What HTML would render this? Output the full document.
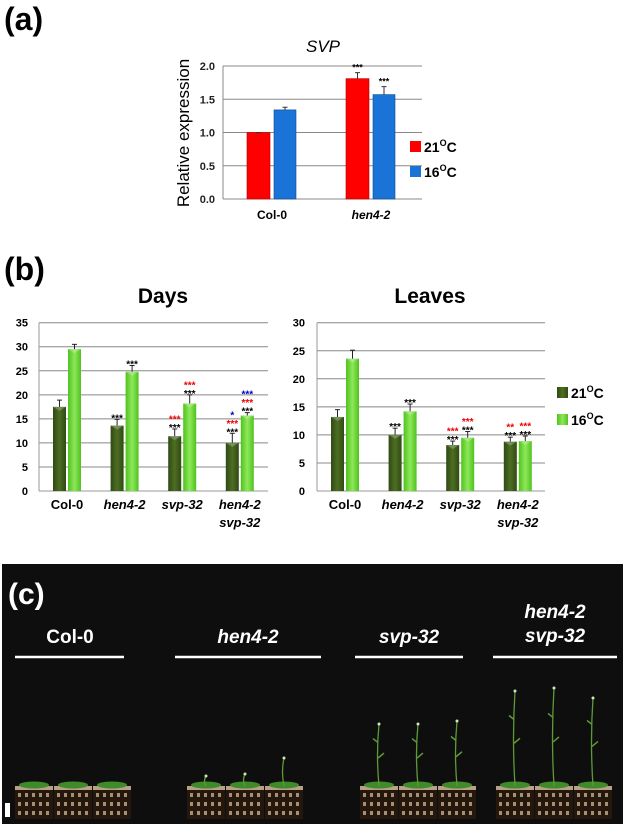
<!DOCTYPE html>
<html><head><meta charset="utf-8"><style>
html,body{margin:0;padding:0;background:#fff;}
svg{display:block;font-family:"Liberation Sans",Arial,sans-serif;}
</style></head><body>
<svg id="fig" width="624" height="824" viewBox="0 0 624 824" xmlns="http://www.w3.org/2000/svg">
<defs>
<linearGradient id="gDark" x1="0" x2="1"><stop offset="0" stop-color="#2f4a14"/><stop offset="0.5" stop-color="#4d6e22"/><stop offset="1" stop-color="#2f4a14"/></linearGradient>
<linearGradient id="gLight" x1="0" x2="1"><stop offset="0" stop-color="#4fc21e"/><stop offset="0.5" stop-color="#8ee85a"/><stop offset="1" stop-color="#4fc21e"/></linearGradient>
</defs>
<text x="4" y="30" font-size="32" font-weight="bold">(a)</text>
<text x="4" y="280" font-size="32" font-weight="bold">(b)</text>
<g id="a"></g>
<g id="bl"></g>
<g id="br"></g>
<g id="c"></g>
</svg>
<script>
// Panel (a) data
const svpCats = ["Col-0", "hen4-2"];
const svp21 = [1.0, 1.81];
const svp21Err = [0.0, 0.09];
const svp16 = [1.34, 1.57];
const svp16Err = [0.04, 0.12];
const svpTicks = [0, 0.5, 1.0, 1.5, 2.0];
const svp21Stars = ["", "***"];
const svp16Stars = ["", "***"];
// Panel (b) data
const genoCats = ["Col-0", "hen4-2", "svp-32", "hen4-2|svp-32"];
const days21 = [17.5, 13.6, 11.4, 10.0];
const days21Err = [1.4, 1.3, 1.5, 2.0];
const days16 = [29.5, 24.8, 18.2, 15.7];
const days16Err = [1.0, 1.3, 1.8, 0.6];
const daysTicks = [0, 5, 10, 15, 20, 25, 30, 35];
const leaves21 = [13.2, 10.0, 8.2, 8.8];
const leaves21Err = [1.3, 1.2, 0.7, 0.8];
const leaves16 = [23.6, 14.2, 9.5, 8.9];
const leaves16Err = [1.5, 1.3, 1.1, 0.9];
const leavesTicks = [0, 5, 10, 15, 20, 25, 30];
const days21Stars = [[], [["***","#000"]], [["***","#000"],["***","#e00"]], [["***","#000"],["***","#e00"],["*","#00c"]]];
const days16Stars = [[], [["***","#000"]], [["***","#000"],["***","#e00"]], [["***","#000"],["***","#e00"],["***","#00c"]]];
const leaves21Stars = [[], [["***","#000"]], [["***","#000"],["***","#e00"]], [["***","#000"],["**","#e00"]]];
const leaves16Stars = [[], [["***","#000"]], [["***","#000"],["***","#e00"]], [["***","#000"],["***","#e00"]]];

const NS="http://www.w3.org/2000/svg";
function mk(parent,tag,attrs,text){const e=document.createElementNS(NS,tag);for(const k in attrs)e.setAttribute(k,attrs[k]);if(text!==undefined)e.textContent=text;parent.appendChild(e);return e;}

// ---- Panel a ----
(function(){
const g=document.getElementById('a');
const x0=223,x1=422,yB=199,yT=66,vmax=2.0;
const y=v=>yB-(v/vmax)*(yB-yT);
svpTicks.forEach(t=>{
  const l=mk(g,'line',{x1:x0,x2:x1,y1:y(t),y2:y(t),stroke:'#888','stroke-width':1});
  
  
  const tx=mk(g,'text',{x:x0-8,y:y(t)+4,'font-size':11,'font-weight':'bold','text-anchor':'end',fill:'#222'},t.toFixed(1));
  
  
});
mk(g,'line',{x1:x0,x2:x0,y1:yT,y2:yB,stroke:'#888'});
const gx=i=>247+i*99;
svpCats.forEach((c,i)=>{
  const bx=gx(i);
  const r=mk(g,'rect',{x:bx,y:y(svp21[i]),width:23,height:yB-y(svp21[i]),fill:'#f00',stroke:'#a00','stroke-width':0.6});
  
  
  const b=mk(g,'rect',{x:bx+27,y:y(svp16[i]),width:22,height:yB-y(svp16[i]),fill:'#1a73d6',stroke:'#0b4a90','stroke-width':0.6});
  
  
  [[bx+11.5,svp21[i],svp21Err[i],svp21Stars[i]],[bx+38,svp16[i],svp16Err[i],svp16Stars[i]]].forEach(([cx,v,e,s])=>{
    if(e>0){mk(g,'line',{x1:cx,x2:cx,y1:y(v),y2:y(v+e),stroke:'#333'});mk(g,'line',{x1:cx-2.5,x2:cx+2.5,y1:y(v+e),y2:y(v+e),stroke:'#333'});}
    else mk(g,'line',{x1:cx-2.5,x2:cx+2.5,y1:y(v),y2:y(v),stroke:'#333'});
    if(s){const st=mk(g,'text',{x:cx,y:y(v+e)-2,'font-size':9,'font-weight':'bold','text-anchor':'middle'},s);
      
      }
  });
  const lb=mk(g,'text',{x:bx+25,y:219,'font-size':12,'font-weight':'bold','text-anchor':'middle','font-style':i?'italic':'normal'},c);
  
  
});
const t=mk(g,'text',{x:323,y:52,'font-size':17,'font-style':'italic','text-anchor':'middle'},'SVP');

const yl=mk(g,'text',{x:0,y:0,'font-size':17,'text-anchor':'middle',transform:'translate(189,133) rotate(-90)'},'Relative expression');

[['#f00','21',147],['#1a73d6','16',172]].forEach(([col,tmp,yy])=>{
  const lg=mk(g,'g',{});
  
  
  mk(lg,'rect',{x:410,y:yy-6,width:11,height:11,fill:col});
  const tx=mk(lg,'text',{x:424,y:yy+5,'font-size':14,'font-weight':'bold'},tmp);
  mk(tx,'tspan',{dy:-6,'font-size':9},'O');
  mk(tx,'tspan',{dy:6},'C');
});
})();

// ---- Panel b ----
function drawB(id,title,vals21,err21,vals16,err16,ticks,vmax,st21,st16,x0,x1,tickX,firstBar,titleX){
const g=document.getElementById(id);
const yB=491,yT=322.7;
const y=v=>yB-(v/vmax)*(yB-yT);
ticks.forEach(t=>{
  if(t>0){const l=mk(g,'line',{x1:x0,x2:x1,y1:y(t),y2:y(t),stroke:'#888','stroke-width':1});
  }
  const tx=mk(g,'text',{x:tickX,y:y(t)+4,'font-size':11,'font-weight':'bold','text-anchor':'end'},String(t));
  
});
mk(g,'line',{x1:x0,x2:x0,y1:yT,y2:yB,stroke:'#999'});
mk(g,'line',{x1:x0,x2:x1,y1:yB,y2:yB,stroke:'#999'});
const tt=mk(g,'text',{x:titleX,y:303,'font-size':21,'font-weight':'bold','text-anchor':'middle'},title);

genoCats.forEach((c,i)=>{
  const bx=firstBar+i*57.6;
  [[bx,vals21[i],err21[i],'url(#gDark)',st21[i],'21c'],[bx+15,vals16[i],err16[i],'url(#gLight)',st16[i],'16c']].forEach(([x,v,e,f,stars,nm])=>{
    const r=mk(g,'rect',{x:x,y:y(v),width:13,height:yB-y(v),fill:f});
    
    
    mk(g,'polygon',{points:`${x},${y(v)} ${x+13},${y(v)} ${x+6.5},${y(v)+4}`,fill:'rgba(255,255,255,0.25)'});
    const cx=x+6.5;
    mk(g,'line',{x1:cx,x2:cx,y1:y(v),y2:y(v+e),stroke:'#222'});
    mk(g,'line',{x1:cx-2.5,x2:cx+2.5,y1:y(v+e),y2:y(v+e),stroke:'#222'});
    stars.forEach((s,k)=>{
      const st=mk(g,'text',{x:cx,y:y(v+e)-3-k*8.5+5,'font-size':10,'font-weight':'bold','text-anchor':'middle',fill:s[1]},s[0]);
      
    });
  });
  const parts=c.split('|');
  parts.forEach((p,k)=>{
    const lb=mk(g,'text',{x:bx+14,y:509+k*18,'font-size':13,'font-weight':'bold','text-anchor':'middle','font-style':i?'italic':'normal'},p);
    
  });
});
}
drawB('bl','Days',days21,days21Err,days16,days16Err,daysTicks,35,days21Stars,days16Stars,39,268,28,53,163);
drawB('br','Leaves',leaves21,leaves21Err,leaves16,leaves16Err,leavesTicks,30,leaves21Stars,leaves16Stars,317,545,305,331,430);
(function(){
const g=document.getElementById('br');
[['url(#gDark)','21',393],['url(#gLight)','16',420]].forEach(([col,tmp,yy])=>{
  const lg=mk(g,'g',{});
  
  
  mk(lg,'rect',{x:557,y:yy-6,width:11,height:11,fill:col});
  const tx=mk(lg,'text',{x:571,y:yy+5,'font-size':14,'font-weight':'bold'},tmp);
  mk(tx,'tspan',{dy:-6,'font-size':9},'O');
  mk(tx,'tspan',{dy:6},'C');
});
})();

// ---- Panel c ----
(function(){
const g=document.getElementById('c');
mk(g,'rect',{x:2,y:564,width:621,height:260,fill:'#0e0e0e'});
const lc=mk(g,'text',{x:8,y:604,'font-size':30,'font-weight':'bold',fill:'#fff'},'(c)');

const labels=[['Col-0',70,15,124,false],['hen4-2',248,175,321,true],['svp-32',409,355,463,true],['hen4-2|svp-32',555,493,617,true]];
labels.forEach(([t,cx,a,b,it])=>{
  const ps=t.split('|');
  ps.forEach((p,k)=>{
    const tx=mk(g,'text',{x:cx,y:ps.length>1?618+k*24:643,'font-size':19,'font-weight':'bold',fill:'#fff','text-anchor':'middle','font-style':it?'italic':'normal'},p);
    
  });
  mk(g,'line',{x1:a,x2:b,y1:657,y2:657,stroke:'#fff','stroke-width':2.5});
});
mk(g,'rect',{x:5,y:803,width:5,height:14,fill:'#fff'});
const pots=[[15,[0,0,0]],[187,[10,12,28]],[360,[62,62,65]],[496,[95,98,88]]];
pots.forEach(([px,hs])=>{
  for(let k=0;k<3;k++){
    const x=px+k*39;
    mk(g,'rect',{x:x,y:788,width:38,height:31,fill:'#24170e'});
    mk(g,'rect',{x:x,y:786,width:38,height:4,fill:'#b8a184'});
    for(let r=0;r<3;r++)for(let c=0;c<5;c++)mk(g,'rect',{x:x+3+c*7,y:793+r*9,width:3,height:4,fill:'#a88f70'});
    mk(g,'ellipse',{cx:x+19,cy:785,rx:15,ry:3.5,fill:'#3f8a2a'});
    if(hs[k]>0){
      const top=786-hs[k];
      mk(g,'path',{d:`M${x+19},786 Q${x+16},${786-hs[k]/2} ${x+19},${top}`,stroke:'#5f9a36','stroke-width':1.3,fill:'none'});
      if(hs[k]>40){
        mk(g,'path',{d:`M${x+18},${786-hs[k]*0.45} l6,-5 M${x+18},${786-hs[k]*0.7} l-5,-4`,stroke:'#5f9a36','stroke-width':1.5,fill:'none'});
      }
      mk(g,'circle',{cx:x+19,cy:top,r:1.5,fill:'#cfe6b8'});
    }
  }
});
})();
</script>
</body></html>
